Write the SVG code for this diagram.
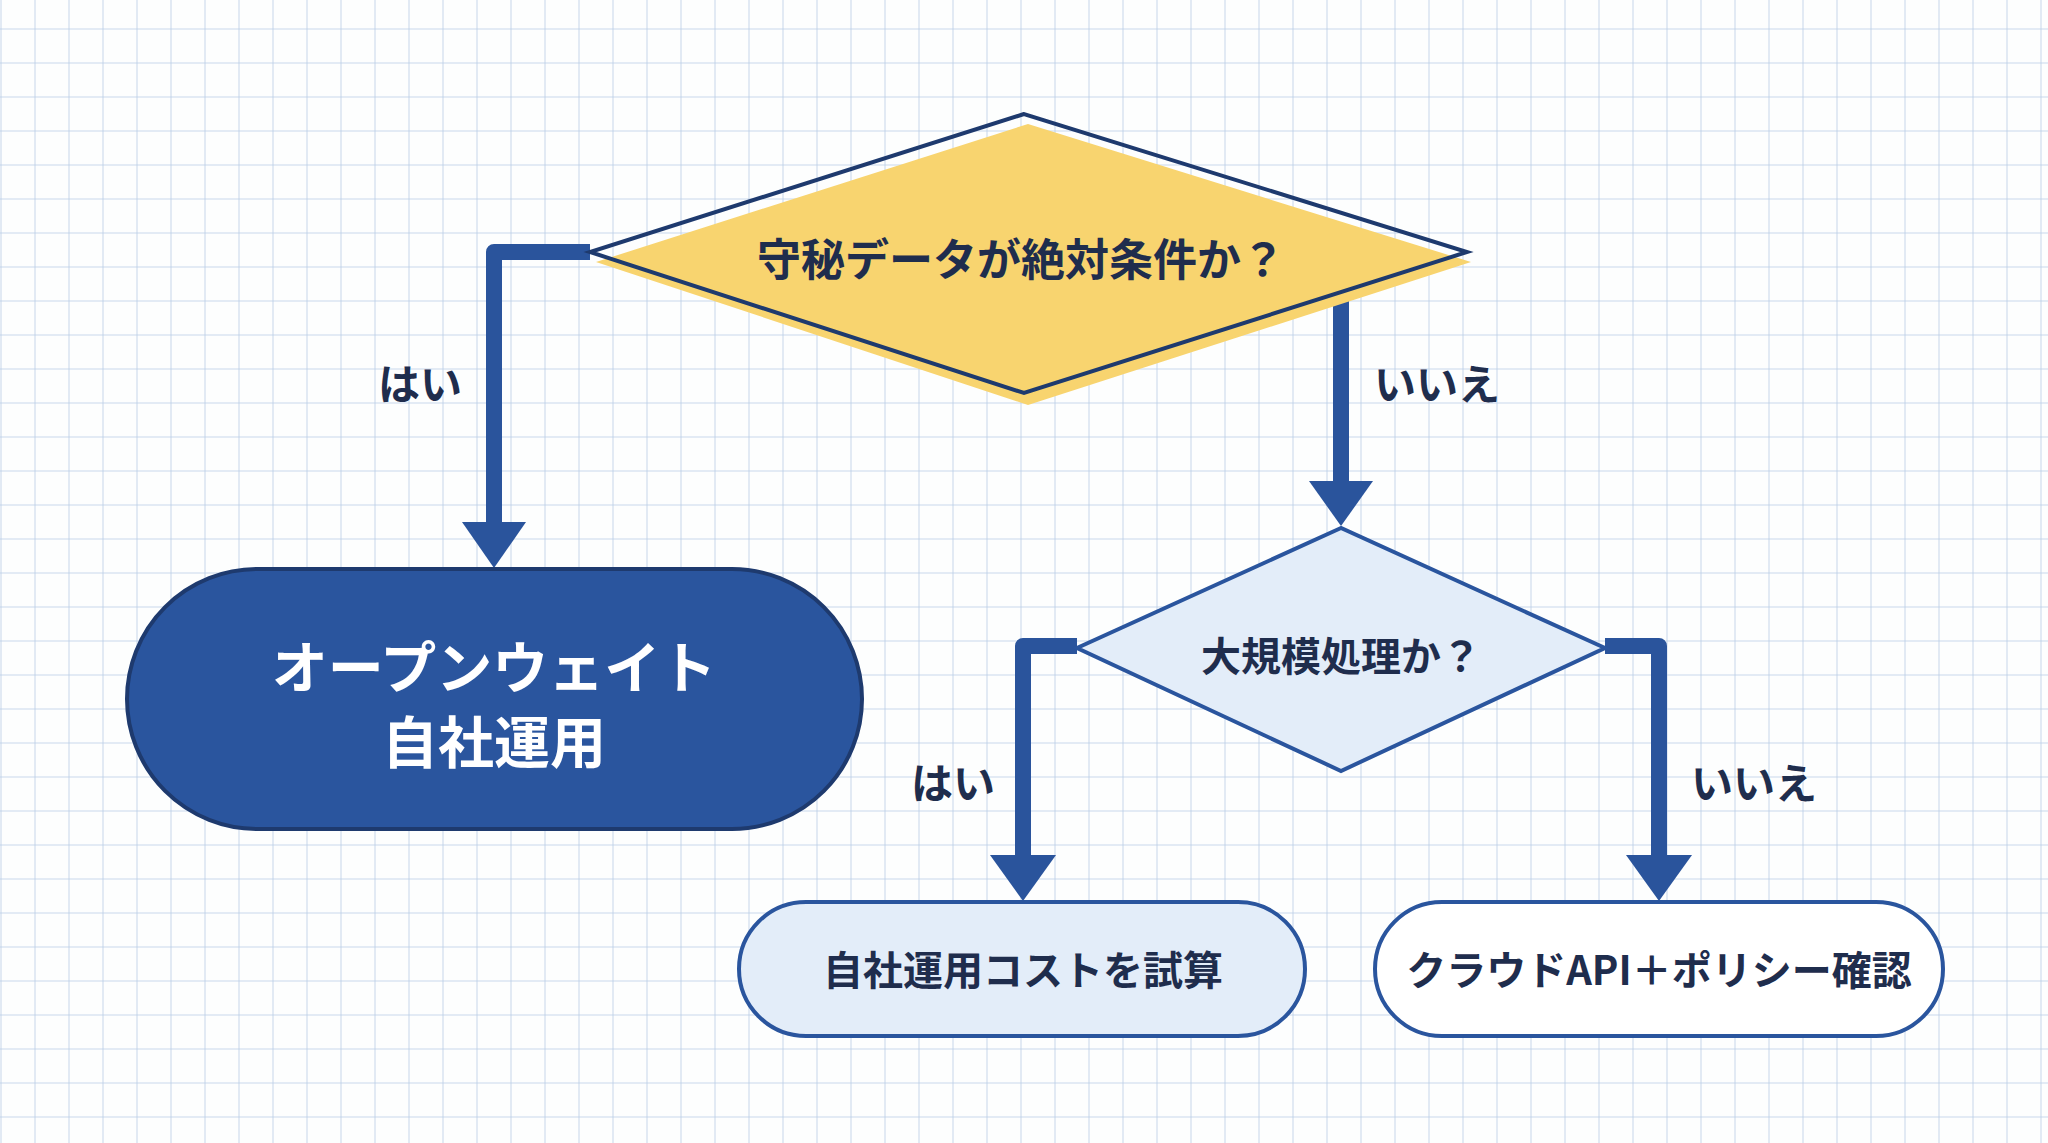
<svg xmlns="http://www.w3.org/2000/svg" width="2048" height="1143" viewBox="0 0 2048 1143">
<defs>
<pattern id="grid" x="0.5" y="28.5" width="34" height="34" patternUnits="userSpaceOnUse">
<path d="M0 0H34M0 0V34" fill="none" stroke="#b9cde6" stroke-width="1.6"/>
</pattern>
</defs>
<style>
.t{font-family:"Noto Sans CJK JP","Noto Sans",sans-serif;font-weight:700;fill:#1f2d4d;text-anchor:middle;dominant-baseline:central}
.w{fill:#ffffff}
.c{fill:none;stroke:#2a549c;stroke-width:16;stroke-linejoin:round}
.ah{fill:#2a549c}
</style>
<rect width="2048" height="1143" fill="#fdfefe"/>
<rect width="2048" height="1143" fill="url(#grid)"/>
<g id="connectors">
<path class="c" d="M590 252H494V525"/>
<polygon class="ah" points="462,522 526,522 494,568"/>
<path class="c" d="M1341 294V484"/>
<polygon class="ah" points="1309,481 1373,481 1341,526"/>
<path class="c" d="M1077 646H1023V858"/>
<polygon class="ah" points="990,855 1056,855 1023,901"/>
<path class="c" d="M1605 646H1659V858"/>
<polygon class="ah" points="1626,855 1692,855 1659,901"/>
<text class="t" x="420" y="381" font-size="42">はい</text>
<text class="t" x="1437" y="381" font-size="42">いいえ</text>
<text class="t" x="953" y="780" font-size="42">はい</text>
<text class="t" x="1754" y="780" font-size="42">いいえ</text>
</g>
<g id="q1">
<polygon points="1028,124 596,262 1028,405 1471,262" fill="#f8d46f"/>
<polygon points="1024,114 590,252 1024,393 1467,252" fill="none" stroke="#1e3a6e" stroke-width="4" stroke-linejoin="miter"/>
<text class="t" x="1021" y="257" font-size="44">守秘データが絶対条件か？</text>
</g>
<g id="yes1">
<rect x="127" y="569" width="735" height="260" rx="130" fill="#2a559e" stroke="#1e3a6e" stroke-width="4"/>
<text class="t w" x="494" y="663" font-size="56">オープンウェイト</text>
<text class="t w" x="494" y="738" font-size="56">自社運用</text>
</g>
<g id="q2">
<polygon points="1341,528 1077,648 1341,771 1605,648" fill="#e3edf9" stroke="#2a559e" stroke-width="4"/>
<text class="t" x="1341" y="654" font-size="40">大規模処理か？</text>
</g>
<g id="yes2">
<rect x="739" y="902" width="566" height="134" rx="67" fill="#e3edf9" stroke="#2a559e" stroke-width="4"/>
<text class="t" x="1023" y="968" font-size="40">自社運用コストを試算</text>
</g>
<g id="no2">
<rect x="1375" y="902" width="568" height="134" rx="67" fill="#ffffff" stroke="#2a559e" stroke-width="4"/>
<text class="t" x="1659" y="968" font-size="40">クラウドAPI＋ポリシー確認</text>
</g>
</svg>
